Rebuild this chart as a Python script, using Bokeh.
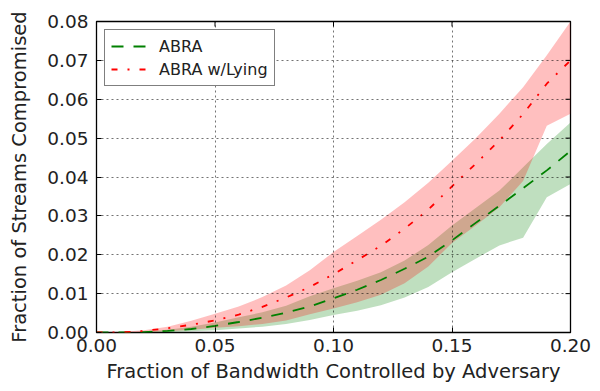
import math
from bokeh.plotting import figure
from bokeh.models import (FixedTicker, Range1d, PrintfTickFormatter,
                          Legend, LegendItem)
from bokeh.embed import file_html
from bokeh.resources import INLINE

# ---- data ----
x = [0.00, 0.01, 0.02, 0.03, 0.04, 0.05, 0.06, 0.07, 0.08, 0.09, 0.10,
     0.11, 0.12, 0.13, 0.14, 0.15, 0.16, 0.17, 0.18, 0.19, 0.20]

abra_mean = [0.0, 0.0000, 0.0001, 0.0004, 0.0009, 0.0017, 0.0027, 0.0038, 0.0051, 0.0067, 0.0088,
             0.0110, 0.0135, 0.0164, 0.0195, 0.0237, 0.0282, 0.0326, 0.0371, 0.0417, 0.0467]
abra_lo = [0.0, 0.0000, 0.0000, 0.0001, 0.0003, 0.0006, 0.0010, 0.0015, 0.0022, 0.0032, 0.0045,
           0.0056, 0.0070, 0.0090, 0.0117, 0.0155, 0.0190, 0.0224, 0.0244, 0.0348, 0.0382]
abra_hi = [0.0, 0.0000, 0.0002, 0.0007, 0.0015, 0.0026, 0.0039, 0.0052, 0.0069, 0.0093, 0.0114,
           0.0133, 0.0155, 0.0185, 0.0225, 0.0275, 0.0320, 0.0365, 0.0425, 0.0485, 0.0540]

lying_mean = [0.0, 0.0000, 0.0004, 0.0011, 0.0020, 0.0031, 0.0046, 0.0066, 0.0090, 0.0117, 0.0150,
              0.0186, 0.0223, 0.0267, 0.0316, 0.0376, 0.0434, 0.0494, 0.0562, 0.0640, 0.0700]
lying_lo = [0.0, 0.0000, 0.0001, 0.0003, 0.0007, 0.0012, 0.0016, 0.0022, 0.0031, 0.0047, 0.0062,
            0.0078, 0.0097, 0.0127, 0.0170, 0.0230, 0.0275, 0.0322, 0.0390, 0.0532, 0.0563]
lying_hi = [0.0, 0.0001, 0.0006, 0.0015, 0.0030, 0.0048, 0.0067, 0.0091, 0.0121, 0.0160, 0.0207,
            0.0248, 0.0290, 0.0335, 0.0385, 0.0442, 0.0500, 0.0563, 0.0631, 0.0713, 0.0800]

x_ticks = [0.00, 0.05, 0.10, 0.15, 0.20]
y_ticks = [0.00, 0.01, 0.02, 0.03, 0.04, 0.05, 0.06, 0.07, 0.08]
X_MAX = 0.20
Y_MAX = 0.08

FONT = "DejaVu Sans"
TXT = "#222222"

p = figure(width=600, height=391, x_range=Range1d(0, X_MAX), y_range=Range1d(0, Y_MAX),
           output_backend="svg", toolbar_location=None,
           min_border_left=96, min_border_right=30, min_border_top=21, min_border_bottom=59)
p.background_fill_color = "white"
p.border_fill_color = "white"
p.outline_line_color = "black"
p.outline_line_width = 1.3

# bands
p.varea(x=x, y1=abra_lo, y2=abra_hi, fill_color="#008000", fill_alpha=0.25)
p.varea(x=x, y1=lying_lo, y2=lying_hi, fill_color="#ff0000", fill_alpha=0.25)

# lines
r1 = p.line(x, abra_mean, line_color="#008000", line_width=1.8, line_dash="12 10")
r2 = p.line(x, lying_mean, line_color="#ff0000", line_width=1.8, line_dash="6 10 2 10")

# inward ticks mirrored on top and right (half of each dash is clipped by the frame)
p.scatter(x=x_ticks, y=[Y_MAX] * len(x_ticks), marker="dash", size=10, angle=math.pi / 2,
          line_color="black", line_width=1)
p.scatter(x=[X_MAX] * len(y_ticks), y=y_ticks, marker="dash", size=10, angle=0,
          line_color="black", line_width=1)

legend = Legend(items=[LegendItem(label="ABRA", renderers=[r1]),
                       LegendItem(label="ABRA w/Lying", renderers=[r2])],
                location="top_left")
legend.margin = 8
legend.padding = 6
legend.spacing = 3
legend.glyph_width = 38
legend.glyph_height = 20
legend.label_height = 20
legend.label_standoff = 10
legend.label_text_font = FONT
legend.label_text_font_size = "16px"
legend.label_text_color = TXT
legend.border_line_color = "black"
legend.border_line_width = 1.2
legend.background_fill_color = "white"
legend.background_fill_alpha = 1.0
p.add_layout(legend, "center")

# axes
for ax, ticks in ((p.xaxis[0], x_ticks), (p.yaxis[0], y_ticks)):
    ax.ticker = FixedTicker(ticks=ticks)
    ax.formatter = PrintfTickFormatter(format="%.2f")
    ax.major_label_text_font = FONT
    ax.major_label_text_font_size = "18.5px"
    ax.major_label_text_color = TXT
    ax.axis_label_text_font = FONT
    ax.axis_label_text_font_size = "19.5px"
    ax.axis_label_text_font_style = "normal"
    ax.axis_label_text_color = TXT
    ax.axis_line_color = None
    ax.major_tick_in = 5
    ax.major_tick_out = 0
    ax.major_tick_line_color = "black"
    ax.minor_tick_line_color = None

p.xaxis[0].axis_label = "Fraction of Bandwidth Controlled by Adversary"
p.yaxis[0].axis_label = "Fraction of Streams Compromised"
p.xaxis[0].major_label_standoff = 6
p.yaxis[0].major_label_standoff = 8
p.xaxis[0].axis_label_standoff = 5
p.yaxis[0].axis_label_standoff = 13

# dotted grid
for g, ticks in ((p.xgrid[0], x_ticks), (p.ygrid[0], y_ticks)):
    g.ticker = FixedTicker(ticks=ticks)
    g.grid_line_color = "#000000"
    g.grid_line_alpha = 0.55
    g.grid_line_dash = "2 3"
    g.grid_line_width = 1
    g.level = "guide"

open("out.html", "w").write(file_html(p, INLINE))
